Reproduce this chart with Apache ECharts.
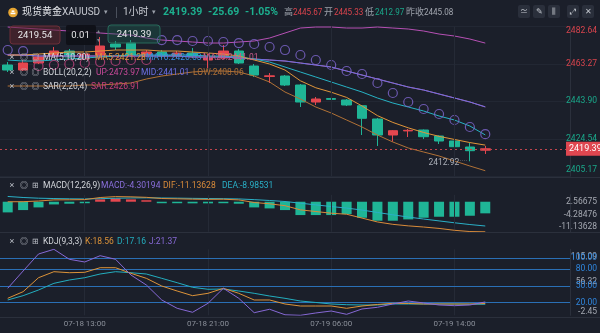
<!DOCTYPE html>
<html>
<head>
<meta charset="utf-8">
<script src="https://cdn.jsdelivr.net/npm/echarts@6/dist/echarts.min.js"></script>
<style>
html,body{margin:0;padding:0;background:#1b1f2a;}
#chart{width:600px;height:333px;}
</style>
</head>
<body>
<div id="chart"></div>
<script>
// Hourly bars, XAUUSD spot gold (1h). 05:00 is the daily market break.
const times = [
  '07-18 08:00','07-18 09:00','07-18 10:00','07-18 11:00','07-18 12:00','07-18 13:00',
  '07-18 14:00','07-18 15:00','07-18 16:00','07-18 17:00','07-18 18:00','07-18 19:00',
  '07-18 20:00','07-18 21:00','07-18 22:00','07-18 23:00','07-19 00:00','07-19 01:00',
  '07-19 02:00','07-19 03:00','07-19 04:00','07-19 06:00','07-19 07:00','07-19 08:00',
  '07-19 09:00','07-19 10:00','07-19 11:00','07-19 12:00','07-19 13:00','07-19 14:00',
  '07-19 15:00','07-19 16:00'
];
// empty future slots that leave room on the right of the last bar
const futureSlots = ['07-19 17:00','07-19 18:00','07-19 19:00','07-19 20:00','07-19 21:00'];
const timeTicks = ['07-18 13:00','07-18 21:00','07-19 06:00','07-19 14:00'];

const open  = [2462.65,2460.06,2463.68,2467.29,2469.87,2465.74,2467.81,2473.49,2474.01,2467.81,2469.36,2467.29,
               2468.84,2465.23,2466.26,2469.87,2462.13,2456.71,2456.96,2452.32,2443.54,2445.33,2444.57,2441.63,
               2434.76,2426.50,2428.61,2429.08,2425.98,2423.40,2420.30,2418.65];
const close = [2460.06,2463.68,2466.78,2469.87,2466.78,2468.33,2472.46,2471.94,2467.81,2469.36,2467.29,2468.84,
               2467.29,2466.26,2469.87,2463.68,2457.48,2457.07,2452.32,2443.54,2445.08,2444.90,2441.99,2435.12,
               2426.50,2428.72,2428.92,2425.62,2423.40,2420.46,2418.39,2419.39];
const low   = [2459.03,2459.55,2463.16,2466.78,2466.26,2465.23,2467.29,2470.39,2466.78,2466.78,2466.26,2466.26,
               2466.26,2461.10,2465.74,2463.16,2456.45,2453.35,2451.80,2440.96,2441.99,2444.57,2441.47,2426.50,
               2420.82,2423.04,2425.46,2424.43,2421.85,2414.10,2412.92,2416.69];
const high  = [2464.19,2465.23,2468.33,2471.94,2470.91,2470.91,2477.10,2475.04,2475.56,2470.39,2470.39,2469.87,
               2471.42,2468.33,2472.97,2470.91,2463.16,2458.51,2457.48,2452.83,2446.12,2445.67,2445.09,2441.99,
               2435.28,2429.08,2429.60,2429.34,2426.24,2423.92,2422.37,2420.82];

const ma5  = [2467.81,2467.81,2468.32,2468.84,2469.36,2469.36,2469.87,2470.39,2470.39,2470.39,2469.87,2469.87,
              2469.36,2468.84,2468.32,2467.29,2465.23,2463.16,2460.06,2454.50,2450.90,2448.60,2445.90,2441.50,
              2436.50,2433.00,2430.20,2427.80,2425.80,2424.20,2422.60,2421.28];
const ma10 = [2465.23,2464.71,2464.71,2465.23,2465.74,2466.26,2466.78,2467.29,2467.81,2467.81,2467.81,2467.81,
              2467.81,2467.29,2467.29,2466.78,2465.74,2464.19,2461.61,2459.03,2456.45,2453.87,2451.28,2448.70,
              2445.61,2443.02,2440.96,2438.89,2436.31,2434.24,2431.14,2426.53];
const bollMid = [2467.81,2467.81,2467.29,2467.29,2467.29,2467.29,2467.29,2467.29,2467.29,2467.29,2467.29,2467.29,
              2466.78,2466.78,2466.78,2466.26,2465.74,2465.23,2464.71,2463.68,2462.65,2461.61,2459.55,2457.48,
              2455.41,2453.35,2451.28,2449.73,2447.67,2445.61,2443.54,2441.01];
const bollUp = [2482.27,2481.75,2481.23,2480.72,2480.20,2479.69,2479.17,2478.65,2478.14,2476.59,2475.55,2475.04,
              2474.52,2474.00,2474.00,2474.52,2475.04,2476.59,2479.17,2481.75,2482.27,2482.27,2481.75,2481.75,
              2482.27,2481.75,2481.23,2480.20,2478.65,2477.62,2476.07,2473.97];
const bollLow = [2451.80,2451.80,2451.80,2451.80,2451.80,2452.32,2452.32,2452.83,2453.35,2455.41,2456.96,2457.99,
              2459.03,2459.55,2459.55,2459.03,2456.96,2453.87,2448.70,2445.09,2440.96,2437.86,2434.24,2430.63,
              2426.50,2422.89,2419.79,2417.72,2415.66,2413.08,2410.49,2408.06];
const sar  = [2470.39,2469.87,2462.13,2462.65,2463.16,2463.68,2464.19,2464.71,2465.23,2465.23,2475.55,2475.55,
              2475.04,2475.04,2474.52,2474.00,2473.49,2471.94,2470.39,2467.81,2465.23,2462.65,2459.55,2458.00,
              2453.35,2448.19,2443.54,2439.92,2437.34,2434.24,2430.63,2426.91];

const macdHist = [-3.95,-3.09,-2.10,-1.00,-0.74,-0.50,0.86,1.23,0.86,0.37,-0.40,-0.50,
                  -0.60,-0.60,-0.40,-0.74,-2.10,-2.47,-3.09,-4.94,-4.94,-4.94,-4.57,-5.93,
                  -7.04,-7.04,-6.54,-5.93,-5.56,-5.56,-5.19,-4.30194];
const dif = [-0.02,0.02,0.26,0.68,0.72,0.78,1.56,1.90,1.82,1.63,1.19,1.08,
             0.95,0.88,0.93,0.67,-0.28,-0.77,-1.47,-3.01,-3.63,-4.25,-4.63,-6.05,
             -7.49,-8.37,-8.94,-9.37,-9.88,-10.58,-11.04,-11.13628];
const dea = [1.95,1.57,1.31,1.18,1.09,1.03,1.13,1.29,1.39,1.44,1.39,1.33,
             1.25,1.18,1.13,1.04,0.77,0.46,0.08,-0.54,-1.16,-1.78,-2.35,-3.09,
             -3.97,-4.85,-5.67,-6.41,-7.10,-7.80,-8.45,-8.98531];

const kLine = [27.8,39.6,64.5,75.2,73.4,74.1,82.3,82.3,72.3,63.4,49.7,40.8,
               32.5,36.7,45.6,36.7,24.8,24.8,17.7,14.1,14.1,14.1,10.0,14.1,
               16.8,18.9,18.6,17.7,17.7,17.7,17.7,18.56];
const dLine = [24.8,32.5,42.6,54.5,60.4,64.5,71.1,75.2,73.4,71.1,63.4,55.6,
               47.4,43.9,44.4,40.8,36.7,31.9,27.8,23.0,20.4,17.7,16.4,15.9,
               15.9,17.7,17.7,17.7,17.7,17.7,17.3,17.16];
const jLine = [45.6,76.4,106.7,115.09,97.3,92.5,103.7,97.3,69.3,51.5,24.8,10.0,
               2.9,18.9,45.6,27.8,2.2,8.3,-1.5,-2.45,1.7,5.2,-0.7,8.8,
               11.8,17.7,23.0,19.5,15.9,14.7,15.9,21.37];

// axis extents and tick labels
const priceTicks = [2405.17, 2424.54, 2443.90, 2463.27, 2482.64];
const macdTicks = [-11.13628, -4.28476, 2.56675];
const kdjTicks = [-2.45, 56.32, 115.09];
const kdjLevels = [20, 50, 80, 100];
const prevClose = 2445.08;
const quote = { last: 2419.39, change: -25.69, pct: -1.05, high: 2445.67, open: 2445.33, low: 2412.97, prev: 2445.08 };

const RED = '#e5474f', GREEN = '#1fb596';
const C_MA5 = '#e0953a', C_MA10 = '#27b2c4', C_MID = '#6c6fe3', C_UP = '#b650b4', C_LOW = '#b07136';
const C_SAR_UP = '#c0437e', C_SAR_DN = '#7f66cf';
const FONT = 'Roboto, "Noto Sans CJK SC", sans-serif';

const cats = times.concat(futureSlots);
const last = a => a[a.length - 1];
const lowIdx = low.indexOf(Math.min(...low));

const chart = echarts.init(document.getElementById('chart'), null, { renderer: 'canvas' });

const gridBase = { left: -7.9, width: 578.1 };
const grids = [
  Object.assign({ top: 26.3, height: 150 }, gridBase),
  Object.assign({ top: 194.8, height: 37 }, gridBase),
  Object.assign({ top: 249.3, height: 66 }, gridBase)
];

function xAxisFor(g) {
  return {
    type: 'category', gridIndex: g, data: cats, boundaryGap: true,
    axisLine: { show: false }, axisTick: { show: false },
    splitLine: { show: false },
    axisLabel: {
      show: g === 2, color: '#8a8f99', fontSize: 8, fontFamily: FONT, margin: 5,
      interval: (i, v) => timeTicks.indexOf(v) >= 0
    }
  };
}

// label shift helpers: the extreme labels sit inside the pane
function edgeRich(padTop, padBottom, color) {
  return {
    hi: { padding: [padTop, 0, 0, 0], color: color, fontSize: 8.5, fontFamily: FONT },
    mid: { color: color, fontSize: 8.5, fontFamily: FONT },
    lo: { padding: [0, 0, padBottom, 0], color: color, fontSize: 8.5, fontFamily: FONT }
  };
}

const vLines = timeTicks.map(t => ({ xAxis: t, label: { show: false }, lineStyle: { color: '#252a36', width: 1, type: 'solid' } }));
const vMarkLine = { silent: true, symbol: 'none', label: { show: false }, data: vLines };

const lineSeries = (name, data, color, xi, yi, z) => ({
  name, type: 'line', data, xAxisIndex: xi, yAxisIndex: yi, symbol: 'none', smooth: false,
  lineStyle: { color, width: 1 }, z: z || 3, silent: true
});

const option = {
  backgroundColor: '#1b1f2a',
  animation: false,
  grid: grids,
  xAxis: [xAxisFor(0), xAxisFor(1), xAxisFor(2)],
  yAxis: [
    {
      gridIndex: 0, position: 'right', min: priceTicks[0], max: last(priceTicks),
      axisLine: { show: true, lineStyle: { color: '#2b303c' } }, axisTick: { show: false, customValues: priceTicks },
      splitLine: { show: true, lineStyle: { color: '#222733' } },
      axisLabel: {
        customValues: priceTicks, align: 'right', margin: 27,
        formatter: (v) => {
          const s = v.toFixed(2);
          const hi = v > prevClose;
          if (v === last(priceTicks)) return '{hi' + (hi ? 'R' : 'G') + '|' + s + '}';
          if (v === priceTicks[0]) return '{lo' + (hi ? 'R' : 'G') + '|' + s + '}';
          return '{m' + (hi ? 'R' : 'G') + '|' + s + '}';
        },
        rich: {
          hiR: { padding: [9, 0, 0, 0], color: '#d8444d', fontSize: 8.5, fontFamily: FONT },
          hiG: { padding: [9, 0, 0, 0], color: '#1aa88a', fontSize: 8.5, fontFamily: FONT },
          mR: { color: '#d8444d', fontSize: 8.5, fontFamily: FONT },
          mG: { color: '#1aa88a', fontSize: 8.5, fontFamily: FONT },
          loR: { padding: [0, 0, 12, 0], color: '#d8444d', fontSize: 8.5, fontFamily: FONT },
          loG: { padding: [0, 0, 12, 0], color: '#1aa88a', fontSize: 8.5, fontFamily: FONT }
        }
      }
    },
    {
      gridIndex: 1, position: 'right', min: macdTicks[0], max: last(macdTicks),
      axisLine: { show: true, lineStyle: { color: '#2b303c' } }, axisTick: { show: false },
      splitLine: { show: false },
      axisLabel: {
        customValues: macdTicks, align: 'right', margin: 27,
        formatter: (v) => {
          const s = v.toFixed(5);
          if (v === last(macdTicks)) return '{hi|' + s + '}';
          if (v === macdTicks[0]) return '{lo|' + s + '}';
          return '{mid|' + s + '}';
        },
        rich: Object.assign(edgeRich(14, 10, '#a4a8b1'), { mid: { padding: [4, 0, 0, 0], color: '#a4a8b1', fontSize: 8.5, fontFamily: FONT } })
      }
    },
    {
      gridIndex: 2, position: 'right', min: kdjTicks[0], max: last(kdjTicks),
      axisLine: { show: true, lineStyle: { color: '#2b303c' } }, axisTick: { show: false },
      splitLine: { show: false },
      axisLabel: {
        customValues: kdjTicks, align: 'right', margin: 27,
        formatter: (v) => {
          const s = v.toFixed(2);
          if (v === last(kdjTicks)) return '{hi|' + s + '}';
          if (v === kdjTicks[0]) return '{lo|' + s + '}';
          return '{mid|' + s + '}';
        },
        rich: edgeRich(16, 6, '#a4a8b1')
      }
    },
    {
      gridIndex: 2, position: 'right', min: kdjTicks[0], max: last(kdjTicks),
      axisLine: { show: false }, axisTick: { show: false }, splitLine: { show: false },
      axisLabel: {
        customValues: kdjLevels, align: 'right', margin: 27, color: '#2f86de', fontSize: 8.5, fontFamily: FONT,
        formatter: (v) => v.toFixed(2)
      }
    }
  ],
  series: [
    {
      name: 'K', type: 'candlestick', xAxisIndex: 0, yAxisIndex: 0, barWidth: 10, z: 2,
      data: open.map((o, i) => [o, close[i], low[i], high[i]]),
      itemStyle: { color: RED, color0: GREEN, borderColor: RED, borderColor0: GREEN, borderWidth: 1 },
      markLine: {
        silent: true, symbol: 'none', label: { show: false },
        data: vLines.concat([{
          yAxis: last(close),
          lineStyle: { color: '#c2454e', type: [2, 3], width: 1 },
          label: {
            show: true, position: 'end', distance: -4, formatter: last(close).toFixed(2),
            backgroundColor: '#df4750', color: '#ffffff', padding: [3, 3, 2, 3], fontSize: 9, fontFamily: FONT
          }
        }])
      },
      markPoint: {
        silent: true, symbol: 'circle', symbolSize: 1, itemStyle: { color: 'rgba(0,0,0,0)' },
        data: [{
          coord: [lowIdx, low[lowIdx]],
          label: {
            show: true, position: 'left', distance: 2, offset: [0, 2],
            formatter: '{v|' + low[lowIdx].toFixed(2) + '}{d|····}',
            rich: { v: { color: '#a9adb6', fontSize: 8.5, fontFamily: FONT }, d: { color: '#a9adb6', fontSize: 6, padding: [0, 0, 6, 0] } }
          }
        }]
      }
    },
    lineSeries('BOLL LOW', bollLow, C_LOW, 0, 0),
    lineSeries('BOLL UP', bollUp, C_UP, 0, 0),
    lineSeries('MA20', bollMid, '#c85a8a', 0, 0),
    lineSeries('BOLL MID', bollMid, C_MID, 0, 0),
    lineSeries('MA10', ma10, C_MA10, 0, 0),
    lineSeries('MA5', ma5, C_MA5, 0, 0),
    {
      name: 'SAR', type: 'scatter', xAxisIndex: 0, yAxisIndex: 0, symbol: 'circle', symbolSize: 9, z: 4, silent: true,
      data: sar.map((v, i) => ({ value: v, itemStyle: { color: 'transparent', borderColor: v < low[i] ? C_SAR_UP : C_SAR_DN, borderWidth: 1.2 } }))
    },
    {
      name: 'MACD', type: 'bar', xAxisIndex: 1, yAxisIndex: 1, barWidth: 10, barMinHeight: 1.5, silent: true,
      data: macdHist.map(v => ({ value: v, itemStyle: { color: v >= 0 ? RED : GREEN } })),
      markLine: vMarkLine
    },
    lineSeries('DEA', dea, '#2ab0c7', 1, 1, 4),
    lineSeries('DIF', dif, '#d98b3a', 1, 1, 5),
    Object.assign(lineSeries('D', dLine, '#23aebf', 2, 2, 5), {
      markLine: {
        silent: true, symbol: 'none', label: { show: false },
        data: vLines.concat(kdjLevels.map(v => ({ yAxis: v, label: { show: false }, lineStyle: { color: '#2a6fb5', width: 1, type: 'solid' } })))
      }
    }),
    lineSeries('K', kLine, '#dc9339', 2, 2, 6),
    lineSeries('J', jLine, '#8769d6', 2, 2, 7)
  ],
  graphic: []
};

// ---------- header, order boxes, legends, pane separators ----------
const g = option.graphic;
const txt = (x, y, text, fill, size, extra, scaleX) => g.push(Object.assign({
  type: 'text', x, y, silent: true, z: 20, scaleX: scaleX || 1,
  style: Object.assign({ text, fill, font: (size || 10) + 'px ' + FONT, textVerticalAlign: 'middle' }, extra || {})
}));
const line = (x1, y1, x2, y2, stroke) => g.push({ type: 'line', silent: true, z: 19, shape: { x1, y1, x2, y2 }, style: { stroke, lineWidth: 1 } });
const rect = (x, y, w, h, fill, stroke, r) => g.push({ type: 'rect', silent: true, z: 18, shape: { x, y, width: w, height: h, r: r || 2 }, style: { fill, stroke: stroke || null, lineWidth: 1 } });

// pane separators
line(0, 177.5, 600, 177.5, '#2b303c');
line(0, 232.5, 600, 232.5, '#2b303c');
line(0, 317.5, 600, 317.5, '#2b303c');

// header
g.push({ type: 'circle', silent: true, z: 20, shape: { cx: 13, cy: 12.5, r: 4.8 }, style: { fill: '#e6a532' } });
g.push({ type: 'rect', silent: true, z: 21, shape: { x: 10.6, y: 12.6, width: 4.8, height: 1.6 }, style: { fill: '#ffffff' } });
g.push({ type: 'rect', silent: true, z: 21, shape: { x: 11.6, y: 10.4, width: 2.8, height: 1.6 }, style: { fill: '#ffffff' } });
txt(22, 12.5, '现货黄金', '#e4e6ea', 10);
txt(62, 12.5, 'XAUUSD', '#c7cad1', 10);
txt(104, 12.5, '▾', '#9aa0aa', 7);
line(116.5, 7, 116.5, 18, '#4a505c');
txt(123, 12.5, '1小时', '#c7cad1', 10);
txt(152, 12.5, '▾', '#9aa0aa', 7);
const sign = (v) => (v > 0 ? '+' : '') + v.toFixed(2);
txt(163, 12.5, quote.last.toFixed(2), '#1db08f', 10.5, { font: 'bold 10.5px ' + FONT });
txt(208, 12.5, sign(quote.change), '#1db08f', 10.5, { font: 'bold 10.5px ' + FONT });
txt(245, 12.5, sign(quote.pct) + '%', '#1db08f', 10.5, { font: 'bold 10.5px ' + FONT });
txt(284, 12.5, '高', '#9ca1ab', 9);
txt(293, 12.5, quote.high.toFixed(2), '#dc444d', 9.5, null, 0.85);
txt(324, 12.5, '开', '#9ca1ab', 9);
txt(334, 12.5, quote.open.toFixed(2), '#dc444d', 9.5, null, 0.85);
txt(365, 12.5, '低', '#9ca1ab', 9);
txt(375, 12.5, quote.low.toFixed(2), '#1aa88a', 9.5, null, 0.85);
txt(406, 12.5, '昨收', '#9ca1ab', 9);
txt(424, 12.5, quote.prev.toFixed(2), '#a4a8b1', 9.5, null, 0.85);
const icons = ['≃', '✎', '⫼', '⤢', '✕'];
[518, 533, 548, 567, 582].forEach((x, i) => {
  rect(x, 5, 12, 13, '#2a2f3b', null, 2);
  txt(x + 6, 11.5, icons[i], '#c4c8cf', 8, { textAlign: 'center' });
});

// order ticket boxes
rect(10, 26, 50, 18, 'rgba(92,36,44,0.55)', '#6c2f38', 3);
txt(35, 35.5, '2419.54', '#e8e8ea', 9.5, { textAlign: 'center' });
rect(66, 25, 30, 20, 'rgba(14,16,22,0.9)', null, 2);
txt(80.5, 35.5, '0.01', '#e8e8ea', 9.5, { textAlign: 'center' });
txt(98.5, 31, '▴', '#7d828c', 6, { textAlign: 'center' });
txt(98.5, 40, '▾', '#7d828c', 6, { textAlign: 'center' });
rect(108, 25, 52, 18, 'rgba(28,100,84,0.35)', '#286a5b', 3);
txt(134, 35, '2419.39', '#e8e8ea', 9.5, { textAlign: 'center' });

// indicator legends
const ICON = '#b9bdc5';
function legendIcons(y, third) {
  txt(12, y, '×', ICON, 9, { textAlign: 'center' });
  txt(24, y, '◎', ICON, 8, { textAlign: 'center' });
  txt(35.5, y, third, ICON, 8, { textAlign: 'center' });
}
legendIcons(58, '◎');
txt(43, 58, 'MA(5,10,20)', '#d3d6db', 8.5);
txt(95, 58, 'MA5:' + last(ma5).toFixed(2), C_MA5, 8.5);
txt(146, 58, 'MA10:' + last(ma10).toFixed(2), '#3a8fe0', 8.5);
txt(203, 58, 'MA20:' + last(bollMid).toFixed(2), '#c85a8a', 8.5);

legendIcons(73, '◎');
txt(43, 73, 'BOLL(20,2,2)', '#d3d6db', 8.5);
txt(96, 73, 'UP:' + last(bollUp).toFixed(2), '#c94a9a', 8.5);
txt(141, 73, 'MID:' + last(bollMid).toFixed(2), C_MID, 8.5);
txt(193, 73, 'LOW:' + last(bollLow).toFixed(2), C_LOW, 8.5);

legendIcons(87, '◎');
txt(43, 87, 'SAR(2,20,4)', '#d3d6db', 8.5);
txt(91, 87, 'SAR:' + last(sar).toFixed(2), '#c9407a', 8.5);

legendIcons(185.5, '⊞');
txt(43, 185.5, 'MACD(12,26,9)', '#d3d6db', 8.5);
txt(101, 185.5, 'MACD:' + last(macdHist).toFixed(5), '#8a6fdc', 8.5);
txt(163, 185.5, 'DIF:' + last(dif).toFixed(5), '#d98b3a', 8.5);
txt(222, 185.5, 'DEA:' + last(dea).toFixed(5), '#2ab0c7', 8.5);

legendIcons(241.5, '⊞');
txt(43, 241.5, 'KDJ(9,3,3)', '#d3d6db', 8.5);
txt(85, 241.5, 'K:' + last(kLine).toFixed(2), '#dc9339', 8.5);
txt(117, 241.5, 'D:' + last(dLine).toFixed(2), '#23aebf', 8.5);
txt(149, 241.5, 'J:' + last(jLine).toFixed(2), '#8769d6', 8.5);

chart.setOption(option);
</script>
</body>
</html>
